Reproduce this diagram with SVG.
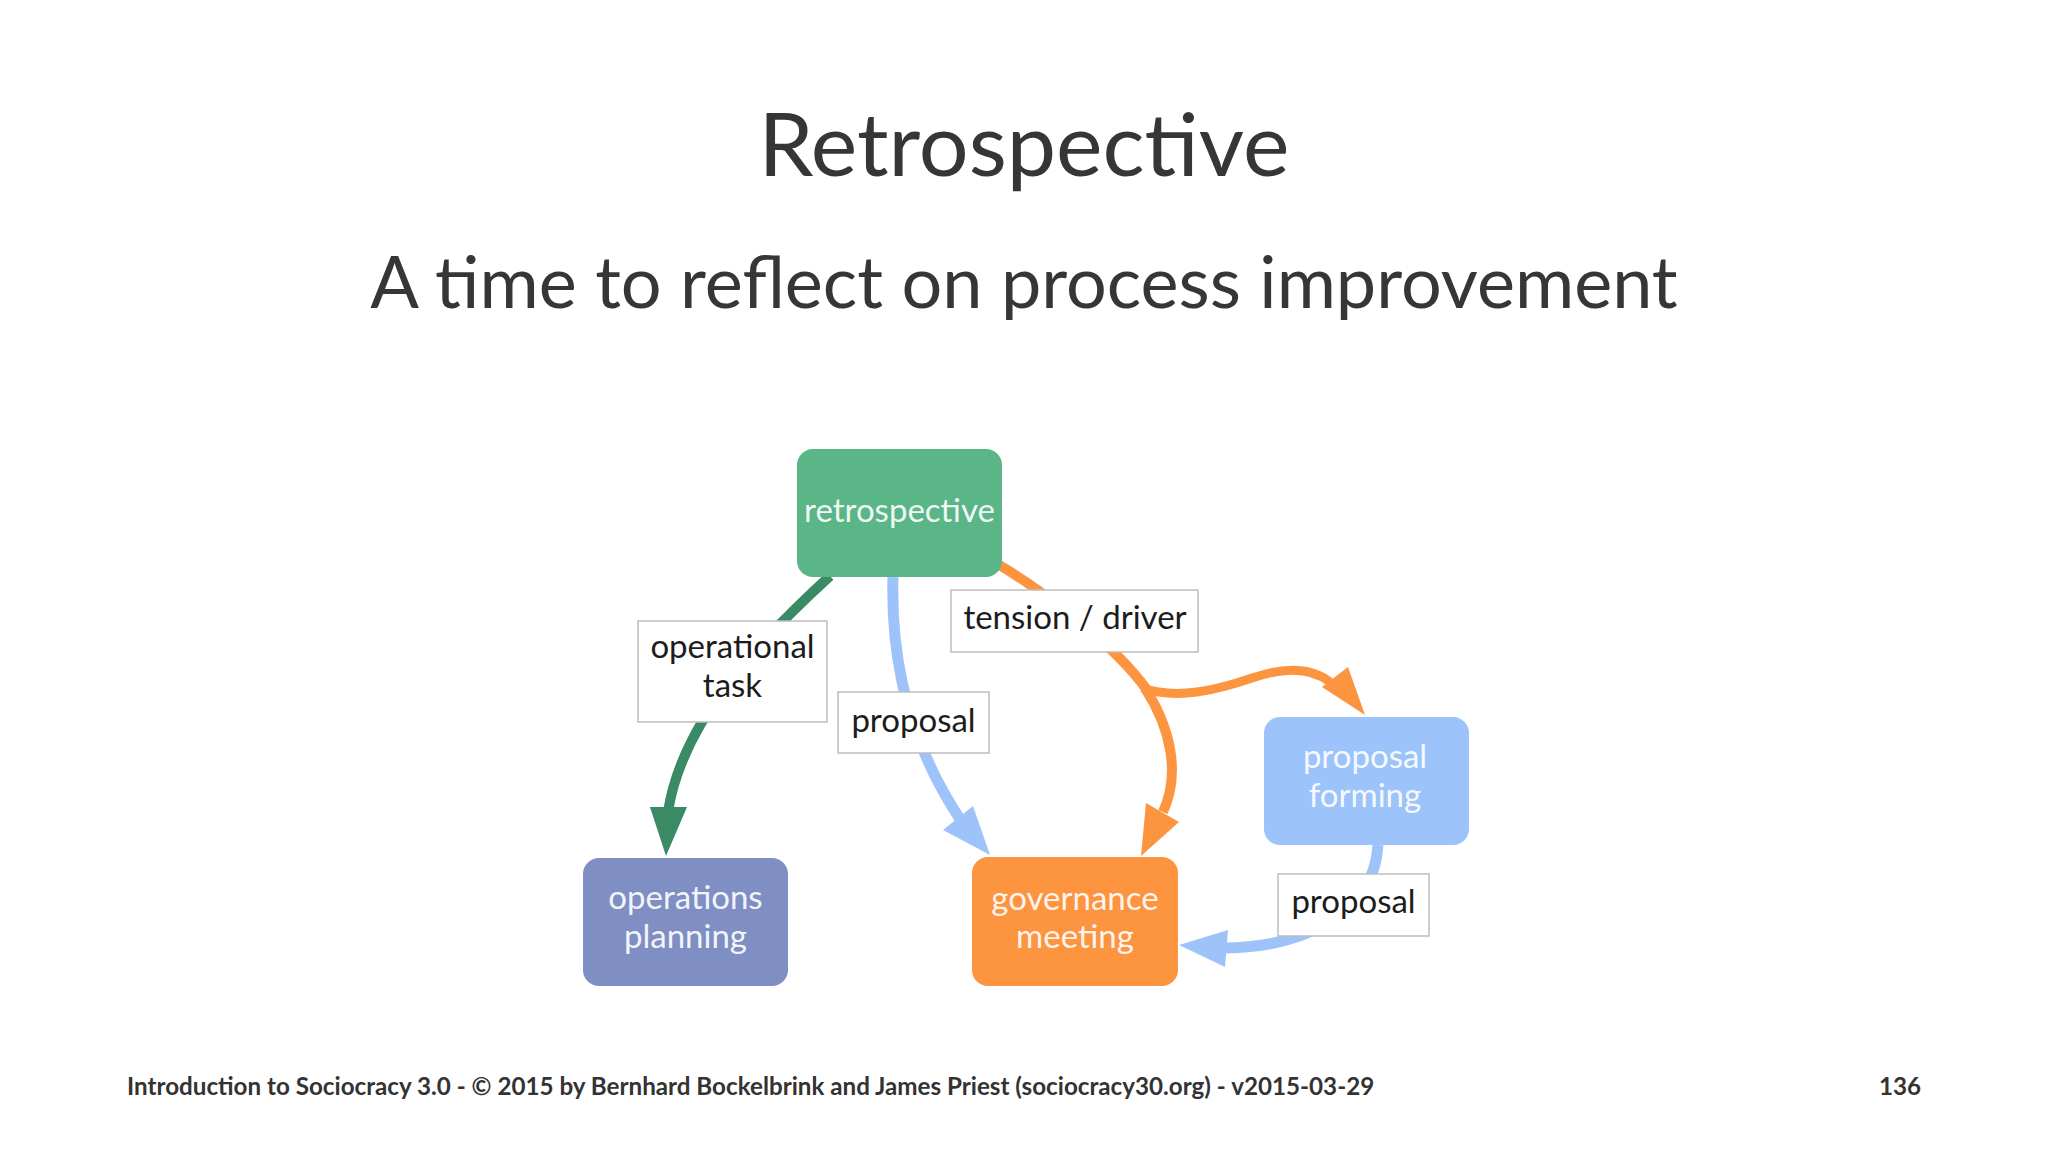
<svg xmlns="http://www.w3.org/2000/svg" width="2048" height="1152" viewBox="0 0 2048 1152">
<style>
.title{font-family:Lato,"Open Sans","Liberation Sans",sans-serif;fill:#363636;text-anchor:middle}
.foot{font-family:Lato,"Liberation Sans",sans-serif;font-weight:bold;font-size:24.2px;fill:#333}
.node{stroke:none}
.ntext{font-family:Lato,"Open Sans","Liberation Sans",sans-serif;font-size:33px;fill:#ffffff;fill-opacity:0.92;text-anchor:middle}
.lbl{fill:#ffffff;stroke:#bdbdbd;stroke-width:1.5}
.ltext{font-family:Lato,"Open Sans","Liberation Sans",sans-serif;font-size:33px;fill:#1c1c1c;text-anchor:middle}
.c{fill:none;stroke-linecap:butt}
.green{stroke:#3a8a66}
.blue{stroke:#9ec3fa}
.orange{stroke:#fc9440}
.hg{fill:#3a8a66}
.hb{fill:#9ec3fa}
.ho{fill:#fc9440}
</style>
<rect width="2048" height="1152" fill="#ffffff"/>
<text class="title" x="1024" y="176" font-size="88">Retrospective</text>
<text class="title" x="1024" y="308" font-size="72">A time to reflect on process improvement</text>

<g id="connectors">
  <path class="c green" stroke-width="10" d="M 830,576 C 760,640 682,720 668,812"/>
  <polygon class="hg" points="650,807 687,807 666,856"/>
  <path class="c blue" stroke-width="11" d="M 893,577 C 890,680 920,760 962,822"/>
  <polygon class="hb" points="943,830 973,806 990,855"/>
  <path class="c orange" stroke-width="10" d="M 996,563 C 1045,592 1115,645 1147,690"/>
  <path class="c orange" stroke-width="10" d="M 1145,688 C 1172,730 1180,775 1163,812"/>
  <polygon class="ho" points="1146,803 1179,822 1141,856"/>
  <path class="c orange" stroke-width="9" d="M 1142,688 C 1177,700 1217,690 1252,678 C 1287,666 1312,668 1330,682"/>
  <polygon class="ho" points="1322,687 1348,667 1365,715"/>
  <path class="c blue" stroke-width="11" d="M 1378,845 C 1374,915 1300,948 1222,948"/>
  <polygon class="hb" points="1228,930 1225,967 1179,945"/>
</g>

<g id="node-retrospective">
  <rect class="node" x="797" y="449" width="205" height="128" rx="16" fill="#5ab587"/>
  <text class="ntext" x="899.5" y="522">retrospective</text>
</g>
<g id="node-operations-planning">
  <rect class="node" x="583" y="858" width="205" height="128" rx="16" fill="#7f8fc4"/>
  <text class="ntext" x="685.5" y="909">operations</text>
  <text class="ntext" x="685.5" y="948">planning</text>
</g>
<g id="node-governance-meeting">
  <rect class="node" x="972" y="857" width="206" height="129" rx="16" fill="#fc9440"/>
  <text class="ntext" x="1075" y="910">governance</text>
  <text class="ntext" x="1075" y="948">meeting</text>
</g>
<g id="node-proposal-forming">
  <rect class="node" x="1264" y="717" width="205" height="128" rx="16" fill="#9cc4fa"/>
  <text class="ntext" x="1365" y="768">proposal</text>
  <text class="ntext" x="1365" y="807">forming</text>
</g>

<g id="label-operational-task">
  <rect class="lbl" x="638" y="621" width="189" height="101"/>
  <text class="ltext" x="732.5" y="658">operational</text>
  <text class="ltext" x="732.5" y="697">task</text>
</g>
<g id="label-proposal-1">
  <rect class="lbl" x="838" y="692" width="151" height="61"/>
  <text class="ltext" x="913.5" y="732">proposal</text>
</g>
<g id="label-tension-driver">
  <rect class="lbl" x="951" y="590" width="247" height="62"/>
  <text class="ltext" x="1075" y="629">tension / driver</text>
</g>
<g id="label-proposal-2">
  <rect class="lbl" x="1278" y="874" width="151" height="62"/>
  <text class="ltext" x="1353.5" y="913">proposal</text>
</g>

<text class="foot" x="127" y="1095">Introduction to Sociocracy 3.0 - © 2015 by Bernhard Bockelbrink and James Priest (sociocracy30.org) - v2015-03-29</text>
<text class="foot" x="1921" y="1095" text-anchor="end">136</text>
</svg>
